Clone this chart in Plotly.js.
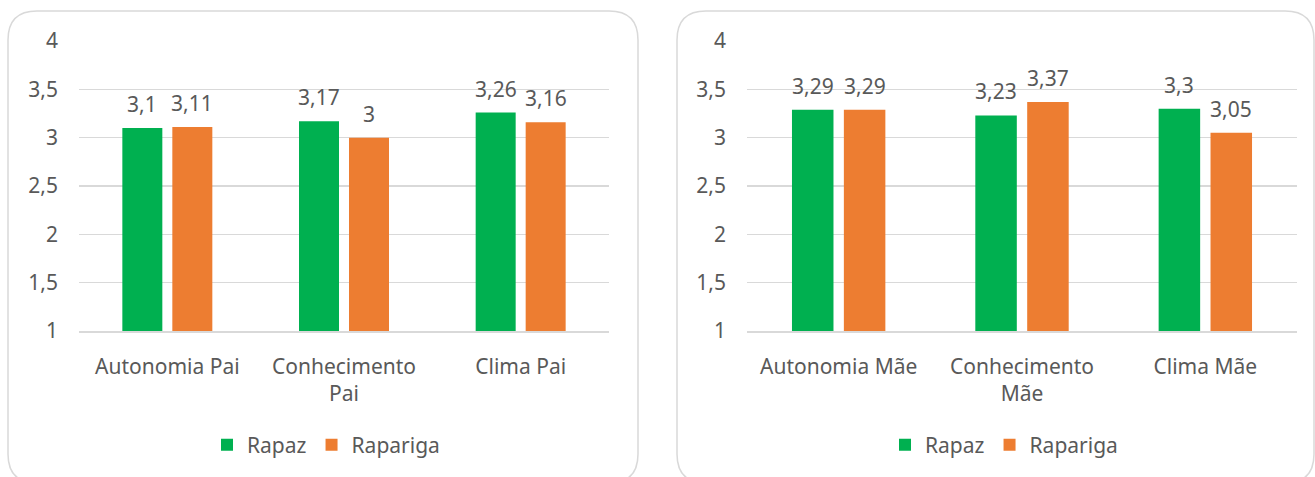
<!DOCTYPE html>
<html>
<head>
<meta charset="utf-8">
<script src="https://cdn.plot.ly/plotly-3.0.1.min.js"></script>
<style>
  html, body { margin: 0; padding: 0; background: #ffffff; }
  #chart { width: 1315px; height: 477px; }
</style>
</head>
<body>
<div id="chart"></div>
<script>
// Categories for the two panels (father / mother)
const categoriesPai = ['Autonomia Pai', 'Conhecimento<br>Pai', 'Clima Pai'];
const categoriesMae = ['Autonomia Mãe', 'Conhecimento<br>Mãe', 'Clima Mãe'];

// Mean scores by sex
const rapazPai = [3.1, 3.17, 3.26];
const raparigaPai = [3.11, 3.0, 3.16];
const rapazMae = [3.29, 3.23, 3.3];
const raparigaMae = [3.29, 3.37, 3.05];

// Value axis ticks
const yTicks = [1, 1.5, 2, 2.5, 3, 3.5, 4];

const seriesNames = ['Rapaz', 'Rapariga'];
const GREEN = '#00B050';
const ORANGE = '#ED7D31';
const TEXT = '#595959';
const GRID = '#d9d9d9';
const FONT = "'Noto Sans', 'Open Sans', sans-serif";

const W = 1315, H = 477;
const px = x => x / W;
const py = y => 1 - y / H;

function bar(name, cats, vals, color, xa, ya, legendId) {
  return {
    type: 'bar', name: name, x: cats, y: vals,
    xaxis: xa, yaxis: ya, legend: legendId,
    marker: { color: color },
    hoverinfo: 'skip'
  };
}

const data = [
  bar(seriesNames[0], categoriesPai, rapazPai, GREEN, 'x', 'y', 'legend'),
  bar(seriesNames[1], categoriesPai, raparigaPai, ORANGE, 'x', 'y', 'legend'),
  bar(seriesNames[0], categoriesMae, rapazMae, GREEN, 'x2', 'y2', 'legend2'),
  bar(seriesNames[1], categoriesMae, raparigaMae, ORANGE, 'x2', 'y2', 'legend2')
];

// Value labels above each bar
const fmt = v => String(v).replace('.', ',');
function labels(cats, vals, xref, yref, shift) {
  return cats.map((c, i) => ({
    x: c, y: vals[i], xref: xref, yref: yref,
    text: fmt(vals[i]), showarrow: false,
    xanchor: 'center', yanchor: 'bottom',
    xshift: shift, yshift: 8,
    font: { family: FONT, size: 21, color: TEXT }
  }));
}
const annotations = [].concat(
  labels(categoriesPai, rapazPai, 'x', 'y', -25),
  labels(categoriesPai, raparigaPai, 'x', 'y', 25),
  labels(categoriesMae, rapazMae, 'x2', 'y2', -26),
  labels(categoriesMae, raparigaMae, 'x2', 'y2', 26)
);

// Rounded chart frames
function roundedRect(x0, y0, x1, y1, r) {
  const p = (x, y) => px(x) + ',' + py(y);
  return 'M' + p(x0 + r, y0) +
    ' L' + p(x1 - r, y0) + ' Q' + p(x1, y0) + ' ' + p(x1, y0 + r) +
    ' L' + p(x1, y1 - r) + ' Q' + p(x1, y1) + ' ' + p(x1 - r, y1) +
    ' L' + p(x0 + r, y1) + ' Q' + p(x0, y1) + ' ' + p(x0, y1 - r) +
    ' L' + p(x0, y0 + r) + ' Q' + p(x0, y0) + ' ' + p(x0 + r, y0) + ' Z';
}
const frame = path => ({
  type: 'path', xref: 'paper', yref: 'paper', path: path,
  line: { color: GRID, width: 1.5 }, fillcolor: 'rgba(0,0,0,0)', layer: 'below'
});

function xAxis(domain, anchor) {
  return {
    domain: domain, anchor: anchor, type: 'category',
    showgrid: false, showline: true, linecolor: GRID, linewidth: 1.5,
    ticks: '', ticklabelstandoff: 16,
    tickfont: { family: FONT, size: 21, color: TEXT },
    fixedrange: true
  };
}
function yAxis(anchor) {
  return {
    domain: [py(331), py(41)], anchor: anchor,
    range: [1, 4], tickvals: yTicks,
    showgrid: true, gridcolor: GRID, gridwidth: 1.5,
    zeroline: false, showline: false, ticks: '',
    ticklabelstandoff: 20,
    tickfont: { family: FONT, size: 21, color: TEXT },
    fixedrange: true
  };
}

const legendBase = {
  orientation: 'h', xanchor: 'center', yanchor: 'middle', y: py(445),
  font: { family: FONT, size: 21, color: TEXT },
  bgcolor: 'rgba(0,0,0,0)', itemclick: false, itemdoubleclick: false
};

const layout = {
  width: W, height: H,
  margin: { l: 0, r: 0, t: 0, b: 0 },
  paper_bgcolor: '#ffffff', plot_bgcolor: '#ffffff',
  separators: ',.',
  barmode: 'group', bargap: 0.434, bargroupgap: 0.2,
  showlegend: true,
  xaxis: xAxis([px(79), px(609)], 'y'),
  yaxis: yAxis('x'),
  xaxis2: xAxis([px(747), px(1297)], 'y2'),
  yaxis2: yAxis('x2'),
  legend: Object.assign({}, legendBase, { x: px(326) }),
  legend2: Object.assign({}, legendBase, { x: px(1004) }),
  annotations: annotations,
  shapes: [
    frame(roundedRect(8, 11, 638, 483, 29)),
    frame(roundedRect(677, 11, 1314, 483, 29))
  ]
};

Plotly.newPlot('chart', data, layout, { displayModeBar: false, staticPlot: true });
</script>
</body>
</html>
